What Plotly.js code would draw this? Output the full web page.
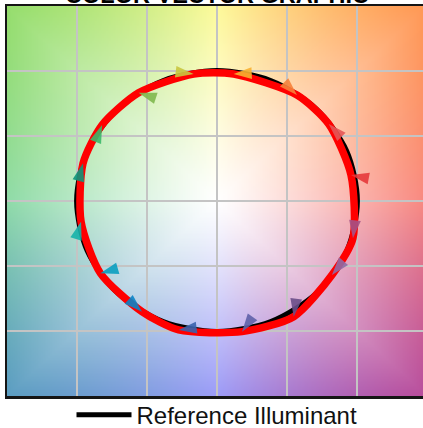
<!DOCTYPE html>
<html><head><meta charset="utf-8">
<script src="https://cdn.plot.ly/plotly-3.0.1.min.js"></script>
<style>html,body{margin:0;padding:0;overflow:hidden;background:#fff}#chart{width:430px;height:428px}</style>
</head><body><div id="chart"></div>
<script>
// Hue-bin centres (degrees) and reference radius (unit circle)
const binAngles = [11.25, 33.75, 56.25, 78.75, 101.25, 123.75, 146.25, 168.75,
                   191.25, 213.75, 236.25, 258.75, 281.25, 303.75, 326.25, 348.75];
const refRadius = [1, 1, 1, 1, 1, 1, 1, 1, 1, 1, 1, 1, 1, 1, 1, 1];
// Test-source (red curve) vertices
const testX = [0.957, 0.798, 0.571, 0.119, -0.167, -0.560, -0.821, -0.957,
               -0.971, -0.833, -0.536, -0.274, 0.179, 0.548, 0.821, 0.971];
const testY = [0.200, 0.592, 0.815, 0.977, 0.977, 0.833, 0.585, 0.290,
               -0.159, -0.556, -0.851, -0.992, -1.005, -0.890, -0.569, -0.287];
const binColors = ['#e5383b', '#e45757', '#f7823a', '#f8b030', '#c9c63f', '#7fb84e', '#3cb86a', '#0e957a',
                   '#16b3aa', '#0a9ec0', '#0b84c6', '#3a63ad', '#5f62a8', '#6a4e88', '#8f6aa5', '#a45286'];
// Background hue field: colours at the frame edge, every 45 degrees
const bgAngles = [0, 45, 90, 135, 180, 225, 270, 315];
const bgColors = ['#f8877f', '#ff9753', '#fdfa9a', '#95dd6c', '#8fdba8', '#5b9dc1', '#9c9cf8', '#b84c9b'];
const legendLabel = 'Reference Illuminant';
const chartTitle = 'COLOR VECTOR GRAPHIC';

function hexToRgb(h) { return [parseInt(h.slice(1, 3), 16), parseInt(h.slice(3, 5), 16), parseInt(h.slice(5, 7), 16)]; }

// Build background image
const N = 240;
const cv = document.createElement('canvas'); cv.width = N; cv.height = N;
const ctx = cv.getContext('2d');
const img = ctx.createImageData(N, N);
const anchors = bgColors.map(hexToRgb);
for (let j = 0; j < N; j++) {
  for (let i = 0; i < N; i++) {
    const x = -1.5 + 3 * (i + 0.5) / N, y = 1.5 - 3 * (j + 0.5) / N;
    let a = Math.atan2(y, x) * 180 / Math.PI; if (a < 0) a += 360;
    let k = 0;
    for (let m = 0; m < bgAngles.length; m++) if (a >= bgAngles[m]) k = m;
    const a0 = bgAngles[k], a1 = (k + 1 < bgAngles.length) ? bgAngles[k + 1] : 360;
    const t = (a - a0) / (a1 - a0);
    const c0 = anchors[k], c1 = anchors[(k + 1) % anchors.length];
    const s = Math.max(Math.abs(x), Math.abs(y)) / 1.5;
    const f = Math.pow(s, 1.15);
    const idx = 4 * (j * N + i);
    for (let c = 0; c < 3; c++) {
      const e = c0[c] * (1 - t) + c1[c] * t;
      img.data[idx + c] = Math.round(255 * (1 - f) + e * f);
    }
    img.data[idx + 3] = 255;
  }
}
ctx.putImageData(img, 0, 0);
const bgURL = cv.toDataURL('image/png');

const deg = Math.PI / 180;
const refX = binAngles.map((a, i) => refRadius[i] * Math.cos(a * deg));
const refY = binAngles.map((a, i) => refRadius[i] * Math.sin(a * deg));

const traces = [];
traces.push({
  x: refX.concat([refX[0]]), y: refY.concat([refY[0]]),
  mode: 'lines', name: legendLabel, showlegend: true,
  line: {color: '#000', width: 5, shape: 'spline', smoothing: 1.2},
  hoverinfo: 'skip'
});
traces.push({
  x: testX.concat([testX[0]]), y: testY.concat([testY[0]]),
  mode: 'lines', name: 'Test Source', showlegend: false,
  line: {color: '#ff0000', width: 7.5, shape: 'spline', smoothing: 0.7},
  hoverinfo: 'skip'
});
for (let i = 0; i < binAngles.length; i++) {
  traces.push({
    x: [refX[i], testX[i]], y: [refY[i], testY[i]],
    mode: 'markers', showlegend: false, hoverinfo: 'skip',
    marker: {symbol: 'arrow', size: 19, angleref: 'previous', color: binColors[i], opacity: 0.9,
             line: {width: 0}}
  });
}

const axisCommon = {
  range: [-1.5, 1.5], dtick: 0.5, tick0: 0, showticklabels: false, ticks: '',
  showgrid: true, gridcolor: '#c4c4c4', gridwidth: 1.5, zeroline: false,
  showline: true, mirror: true, linecolor: '#151515', linewidth: 2.5, fixedrange: true
};

const layout = {
  width: 430, height: 428,
  margin: {l: 7, r: 3, t: 6, b: 32, autoexpand: false},
  paper_bgcolor: '#ffffff', plot_bgcolor: '#ffffff',
  title: {text: chartTitle, x: 0.5, xref: 'paper', xanchor: 'center', y: 1, yref: 'paper', yanchor: 'bottom',
          pad: {b: 3.5, t: 0, l: 0, r: 0},
          font: {family: 'Liberation Sans, Arial, sans-serif', size: 23.5, color: '#000', weight: 'bold'}},
  xaxis: Object.assign({}, axisCommon),
  yaxis: Object.assign({}, axisCommon),
  showlegend: true,
  legend: {orientation: 'h', x: 0.5, xanchor: 'center', y: -0.049, yanchor: 'middle',
           bgcolor: 'rgba(0,0,0,0)', borderwidth: 0, itemwidth: 55,
           font: {family: 'Liberation Sans, Arial, sans-serif', size: 24, color: '#111'}},
  images: [{source: bgURL, xref: 'x', yref: 'y', x: -1.5, y: 1.5, sizex: 3, sizey: 3,
            sizing: 'stretch', layer: 'below', xanchor: 'left', yanchor: 'top'}]
};

Plotly.newPlot('chart', traces, layout, {displayModeBar: false, staticPlot: true});
</script>
</body></html>
